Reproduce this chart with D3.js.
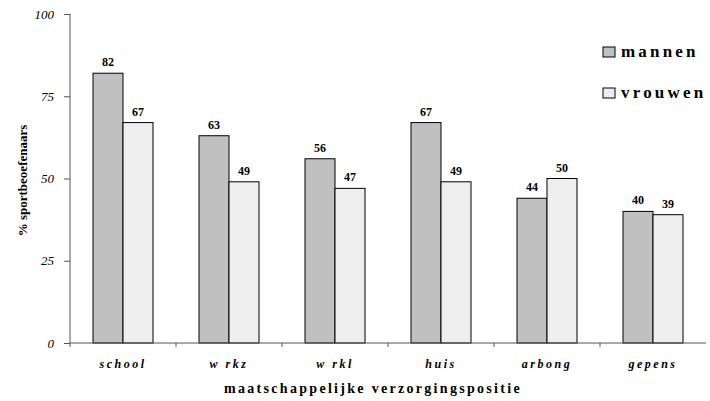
<!DOCTYPE html>
<html>
<head>
<meta charset="utf-8">
<script src="https://cdn.jsdelivr.net/npm/d3@7"></script>
<style>
  html, body { margin: 0; padding: 0; background: #fff; }
  svg { display: block; }
  svg text { font-family: "Liberation Serif", "Times New Roman", Tinos, serif; }
</style>
</head>
<body>
<svg id="chart" width="710" height="401" font-family="Liberation Serif, Times New Roman, serif"></svg>
<script>
// Sports participation by social position, men vs women
const categories = ["school", "w rkz", "w rkl", "huis", "arbong", "gepens"];
const seriesNames = ["mannen", "vrouwen"];
const mannen = [82, 63, 56, 67, 44, 40];
const vrouwen = [67, 49, 47, 49, 50, 39];
const yTicks = [0, 25, 50, 75, 100];
const colors = ["#c0c0c0", "#eeeeee"];

const FONT = "'Liberation Serif', 'Times New Roman', serif";
const svg = d3.select("#chart");
const margin = { left: 70, right: 4, top: 14, bottom: 58 };
const W = 710, H = 401;
const plotW = W - margin.left - margin.right;
const y0 = H - margin.bottom;

const x = d3.scaleBand().domain(categories).range([margin.left, margin.left + plotW]).padding(0);
const y = d3.scaleLinear().domain([0, 100]).range([y0, margin.top]);

// two adjacent bars centered in each category band
const barW = 30;
const groupOffset = (x.bandwidth() - 2 * barW) / 2;

const rows = categories.map((c, i) => ({ cat: c, values: [mannen[i], vrouwen[i]] }));

function txt(sel) {
  return sel.attr("font-family", FONT).style("font-family", FONT);
}

const g = svg.append("g");
rows.forEach(r => {
  r.values.forEach((v, j) => {
    const bx = x(r.cat) + groupOffset + j * barW;
    g.append("rect")
      .attr("x", bx)
      .attr("y", y(v))
      .attr("width", barW)
      .attr("height", y0 - y(v))
      .attr("fill", colors[j])
      .attr("stroke", "#000")
      .attr("stroke-width", 1);
    txt(g.append("text"))
      .attr("x", bx + barW / 2)
      .attr("y", y(v) - 7)
      .attr("text-anchor", "middle")
      .attr("font-size", 12)
      .attr("font-weight", "bold")
      .text(v);
  });
});

// y axis
const yAxis = d3.axisLeft(y).tickValues(yTicks).tickSize(6).tickPadding(10);
const ya = svg.append("g").attr("transform", `translate(${margin.left},0)`).call(yAxis);
ya.attr("font-family", FONT);
ya.select(".domain").attr("stroke", "#555").attr("d", `M0,${margin.top}V${y0 + 4}`);
ya.selectAll(".tick line").attr("stroke", "#555");
txt(ya.selectAll(".tick text"))
  .attr("font-style", "italic")
  .attr("font-size", 13)
  .attr("fill", "#000");

// x axis with tick marks at category boundaries
const xa = svg.append("g");
xa.append("line")
  .attr("x1", margin.left).attr("x2", margin.left + plotW)
  .attr("y1", y0).attr("y2", y0)
  .attr("stroke", "#555");
categories.forEach((c, i) => {
  if (i > 0) {
    xa.append("line")
      .attr("x1", x(c)).attr("x2", x(c))
      .attr("y1", y0).attr("y2", y0 + 4)
      .attr("stroke", "#555");
  }
  txt(xa.append("text"))
    .attr("x", x(c) + x.bandwidth() / 2)
    .attr("y", y0 + 25)
    .attr("text-anchor", "middle")
    .attr("font-size", 12)
    .attr("font-weight", "bold")
    .attr("font-style", "italic")
    .attr("letter-spacing", 2.5)
    .text(c);
});

// axis titles
txt(svg.append("text"))
  .attr("x", 373)
  .attr("y", 393)
  .attr("text-anchor", "middle")
  .attr("font-size", 14)
  .attr("font-weight", "bold")
  .attr("letter-spacing", 2.3)
  .text("maatschappelijke verzorgingspositie");

txt(svg.append("text"))
  .attr("transform", `translate(27,${(margin.top + y0) / 2 + 2}) rotate(-90)`)
  .attr("text-anchor", "middle")
  .attr("font-size", 13)
  .attr("font-weight", "bold")
  .text("% sportbeoefenaars");

// legend
const legend = svg.append("g");
seriesNames.forEach((s, j) => {
  const ly = 47 + j * 41;
  legend.append("rect")
    .attr("x", 603).attr("y", ly)
    .attr("width", 12).attr("height", 10)
    .attr("fill", colors[j])
    .attr("stroke", "#000")
    .attr("stroke-width", 1);
  txt(legend.append("text"))
    .attr("x", 621).attr("y", ly + 10)
    .attr("font-size", 17)
    .attr("font-weight", "bold")
    .attr("letter-spacing", 3.2)
    .text(s);
});
</script>
</body>
</html>
